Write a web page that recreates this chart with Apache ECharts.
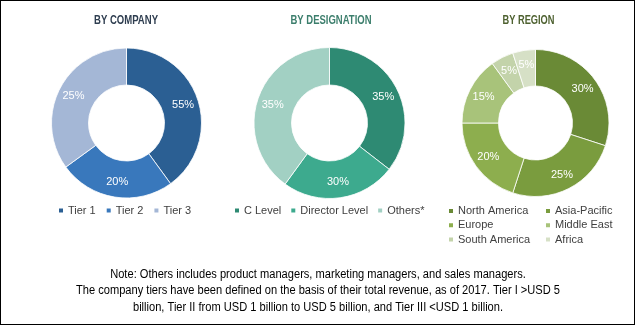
<!DOCTYPE html>
<html>
<head>
<meta charset="utf-8">
<script src="https://cdn.jsdelivr.net/npm/echarts@6/dist/echarts.min.js"></script>
<style>
html,body{margin:0;padding:0;background:#fff;}
#c{width:635px;height:325px;box-sizing:border-box;border:1px solid #000;}
</style>
</head>
<body>
<div id="c"></div>
<script>
// Category names
var companyCats = ['Tier 1','Tier 2','Tier 3'];
var designCats = ['C Level','Director Level','Others*'];
var regionCats = ['North America','Asia-Pacific','Europe','Middle East','South America','Africa'];
// Slice shares as drawn in the picture (angles measured)
var companyShares = [40,25,35];
var designShares = [35.5,24.5,40];
var regionShares = [30,25,20,15,5,5];
// Printed data labels
var companyLabels = ['55%','20%','25%'];
var designLabels = ['35%','30%','35%'];
var regionLabels = ['30%','25%','20%','15%','5%','5%'];
var titles = ['BY COMPANY','BY DESIGNATION','BY REGION'];
var noteLines = [
  'Note: Others includes product managers, marketing managers, and sales managers.',
  'The company tiers have been defined on the basis of their total revenue, as of 2017. Tier I >USD 5',
  'billion, Tier II from USD 1 billion to USD 5 billion, and Tier III <USD 1 billion.'
];

var companyColors = ['#2B5F93','#3978BC','#A4B7D6'];
var designColors = ['#2E8A73','#3DAA8E','#A2D0C3'];
var regionColors = ['#6A8A36','#7A9C3E','#8DAE4E','#A8C37A','#C3D3AA','#D6E0C6'];
var titleColors = ['#2F3E50','#3C7E6C','#4E6130'];

var FONT = '"Liberation Sans",Arial,sans-serif';
var chart = echarts.init(document.getElementById('c'), null, {renderer:'canvas'});

var mctx = document.createElement('canvas').getContext('2d');
function measure(txt, font){ mctx.font = font; return mctx.measureText(txt).width; }

function pie(name, cats, vals, labels, colors, cx, r){
  return {
    type:'pie', name:name, center:[cx,122], radius:r,
    startAngle:90, clockwise:true, avoidLabelOverlap:false,
    label:{show:true, position:'inside', color:'#fff',
           fontSize:11, fontFamily:FONT,
           formatter:function(p){ return labels[p.dataIndex]; }},
    labelLine:{show:false},
    itemStyle:{borderColor:'#fff', borderWidth:0.8},
    emphasis:{disabled:true},
    data: cats.map(function(c,i){return {name:c, value:vals[i], itemStyle:{color:colors[i]}};})
  };
}

var graphics = [];
// Titles (condensed look via horizontal scaling)
var titleX = [125, 330, 527.5];
var titleW = [64, 81, 52];
titles.forEach(function(t,i){
  var f = 'bold 12px ' + FONT;
  var s = titleW[i] / measure(t, f);
  graphics.push({type:'text', x:titleX[i], y:19.5, scaleX:s, silent:true,
    style:{text:t, font:f, fill:titleColors[i], align:'center', verticalAlign:'middle'}});
});
// Note lines
var noteY = [273.5, 290, 306.5];
var noteFont = '12.5px ' + FONT;
var noteScale = 484 / measure(noteLines[1], noteFont);
noteLines.forEach(function(t,i){
  graphics.push({type:'text', x:317, y:noteY[i], scaleX:noteScale, silent:true,
    style:{text:t, font:noteFont, fill:'#000', align:'center', verticalAlign:'middle'}});
});

var legendText = {fontSize:11, color:'#404040', fontFamily:FONT, padding:[0,0,0,-1]};
function lg(data, left, top, orient, gap){
  return {data:data, left:left, top:top, orient:orient||'horizontal', padding:0,
    itemWidth:6, itemHeight:6, itemGap:gap, icon:'rect', textStyle:legendText, selectedMode:false};
}

chart.setOption({
  animation:false,
  legend:[
    lg(companyCats, 56, 204, 'horizontal', 9),
    lg(designCats, 232, 204, 'horizontal', 8),
    lg([regionCats[0],regionCats[2],regionCats[4]], 446, 204.5, 'vertical', 3.3),
    lg([regionCats[1],regionCats[3],regionCats[5]], 543, 204.5, 'vertical', 3.3)
  ],
  series:[
    pie('company', companyCats, companyShares, companyLabels, companyColors, 125.5, [38,75]),
    pie('designation', designCats, designShares, designLabels, designColors, 328.5, [38,75.5]),
    pie('region', regionCats, regionShares, regionLabels, regionColors, 534.5, [37,73.5])
  ],
  graphic: graphics
});
</script>
</body>
</html>
